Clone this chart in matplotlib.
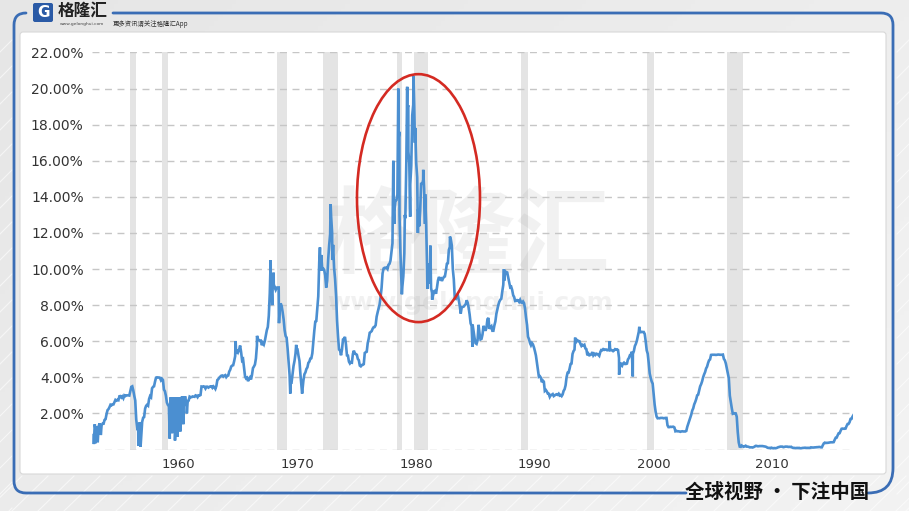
"""Effective federal funds rate 1954-2018 with recession shading (gelonghui card)."""

import matplotlib

matplotlib.use("Agg")
import matplotlib.pyplot as plt
import numpy as np
from matplotlib.colors import LinearSegmentedColormap
from matplotlib.patches import Ellipse, FancyBboxPatch, PathPatch
from matplotlib.path import Path

# ---- data -----------------------------------------------------------------
# monthly rate in %, first value is July 1954
first_month = 1954 + 6 / 12
rate_1950s = [
    0.80, 1.22, 1.07, 0.85, 0.83, 1.28,
    1.39, 1.29, 1.35, 1.43, 1.43, 1.64, 1.68, 1.96, 2.18, 2.24, 2.35, 2.48,
    2.45, 2.50, 2.50, 2.62, 2.75, 2.71, 2.75, 2.73, 2.95, 2.96, 2.88, 2.94,
    2.84, 3.00, 2.96, 3.00, 3.00, 3.00, 2.99, 3.24, 3.47, 3.50, 3.28, 2.98,
    2.72, 1.67, 1.20, 1.26, 0.63, 0.93, 0.68, 1.53, 1.76, 1.80, 2.27, 2.42,
    2.48, 2.43, 2.80, 2.96, 2.90, 3.39, 3.47, 3.50, 3.76, 3.98, 4.00, 3.99,
]
rate_1960s = [
    3.99, 3.97, 3.84, 3.92, 3.85, 3.32, 3.23, 2.98, 2.60, 2.47, 2.44, 1.98,
    1.45, 2.54, 2.02, 1.49, 1.98, 1.73, 1.17, 2.00, 1.88, 2.26, 2.61, 2.33,
    2.15, 2.37, 2.85, 2.78, 2.36, 2.68, 2.71, 2.93, 2.90, 2.90, 2.94, 2.93,
    2.92, 3.00, 2.98, 2.90, 3.00, 2.99, 3.02, 3.49, 3.48, 3.50, 3.48, 3.38,
    3.48, 3.48, 3.43, 3.47, 3.50, 3.50, 3.42, 3.50, 3.45, 3.36, 3.52, 3.85,
    3.90, 3.98, 4.04, 4.09, 4.10, 4.04, 4.09, 4.12, 4.01, 4.08, 4.10, 4.32,
    4.42, 4.60, 4.65, 4.67, 4.90, 5.17, 5.30, 5.53, 5.40, 5.53, 5.76, 5.40,
    4.94, 5.00, 4.53, 4.05, 3.94, 3.98, 3.79, 3.90, 3.99, 3.88, 4.13, 4.51,
    4.60, 4.71, 5.05, 5.76, 6.11, 6.07, 6.02, 6.03, 5.78, 5.91, 5.82, 6.02,
    6.30, 6.61, 6.79, 7.41, 8.67, 8.90, 8.61, 9.19, 9.15, 9.00, 8.85, 8.97,
]
rate_1970s = [
    8.98, 8.98, 7.76, 8.10, 7.95, 7.61, 7.21, 6.61, 6.29, 6.20, 5.60, 4.90,
    4.14, 3.72, 3.71, 4.16, 4.63, 4.91, 5.31, 5.56, 5.55, 5.20, 4.91, 4.14,
    3.50, 3.29, 3.83, 4.17, 4.27, 4.46, 4.55, 4.80, 4.87, 5.04, 5.06, 5.33,
    5.94, 6.58, 7.09, 7.12, 7.84, 8.49, 10.40, 10.50, 10.78, 10.01, 10.03, 9.95,
    9.65, 8.97, 9.35, 10.51, 11.31, 11.93, 12.92, 12.01, 11.34, 10.06, 9.45, 8.53,
    7.13, 6.24, 5.54, 5.49, 5.22, 5.55, 6.10, 6.14, 6.24, 5.82, 5.22, 5.20,
    4.87, 4.77, 4.84, 4.82, 5.29, 5.48, 5.31, 5.29, 5.25, 5.02, 4.95, 4.65,
    4.61, 4.68, 4.69, 4.73, 5.35, 5.39, 5.42, 5.90, 6.14, 6.47, 6.51, 6.56,
    6.70, 6.78, 6.79, 6.89, 7.36, 7.60, 7.81, 8.04, 8.45, 8.96, 9.76, 10.03,
    10.07, 10.06, 10.09, 10.01, 10.24, 10.29, 10.47, 10.94, 11.43, 13.77, 13.18, 13.78,
]
rate_1980s = [
    13.82, 14.13, 17.19, 17.61, 10.98, 9.47, 9.03, 9.61, 10.87, 12.81, 15.85, 18.90,
    19.08, 15.93, 14.70, 15.72, 18.52, 19.10, 19.04, 17.82, 15.87, 15.08, 13.31, 12.37,
    13.22, 14.78, 14.68, 14.94, 14.45, 14.15, 12.59, 10.12, 10.31, 9.71, 9.20, 8.95,
    8.68, 8.51, 8.77, 8.80, 8.63, 8.98, 9.37, 9.56, 9.45, 9.48, 9.34, 9.47,
    9.56, 9.59, 9.91, 10.29, 10.32, 11.06, 11.23, 11.64, 11.30, 9.99, 9.43, 8.38,
    8.35, 8.50, 8.58, 8.27, 7.97, 7.53, 7.88, 7.90, 7.92, 7.99, 8.05, 8.27,
    8.14, 7.86, 7.48, 6.99, 6.85, 6.92, 6.56, 6.17, 5.89, 5.85, 6.04, 6.91,
    6.43, 6.10, 6.13, 6.37, 6.85, 6.73, 6.58, 6.73, 7.22, 7.29, 6.69, 6.77,
    6.83, 6.58, 6.58, 6.87, 7.09, 7.51, 7.75, 8.01, 8.19, 8.30, 8.35, 8.76,
    9.12, 9.36, 9.85, 9.84, 9.81, 9.53, 9.24, 8.99, 9.02, 8.84, 8.55, 8.45,
]
rate_1990s = [
    8.23, 8.24, 8.28, 8.26, 8.18, 8.29, 8.15, 8.13, 8.20, 8.11, 7.81, 7.31,
    6.91, 6.25, 6.12, 5.91, 5.78, 5.90, 5.82, 5.66, 5.45, 5.21, 4.81, 4.43,
    4.03, 4.06, 3.98, 3.73, 3.82, 3.76, 3.25, 3.30, 3.22, 3.10, 3.09, 2.92,
    3.02, 3.03, 3.07, 2.96, 3.00, 3.04, 3.06, 3.03, 3.09, 2.99, 3.02, 2.96,
    3.05, 3.25, 3.34, 3.56, 4.01, 4.25, 4.26, 4.47, 4.73, 4.76, 5.29, 5.45,
    5.53, 5.92, 5.98, 6.05, 6.01, 6.00, 5.85, 5.74, 5.80, 5.76, 5.80, 5.60,
    5.56, 5.22, 5.31, 5.22, 5.24, 5.27, 5.40, 5.22, 5.30, 5.24, 5.31, 5.29,
    5.25, 5.19, 5.39, 5.51, 5.50, 5.56, 5.52, 5.54, 5.54, 5.50, 5.52, 5.50,
    5.56, 5.51, 5.49, 5.45, 5.49, 5.56, 5.54, 5.55, 5.51, 5.07, 4.83, 4.68,
    4.63, 4.76, 4.81, 4.74, 4.74, 4.76, 4.99, 5.07, 5.22, 5.20, 5.42, 5.30,
]
rate_2000s = [
    5.45, 5.73, 5.85, 6.02, 6.27, 6.53, 6.54, 6.50, 6.52, 6.51, 6.51, 6.40,
    5.98, 5.49, 5.31, 4.80, 4.21, 3.97, 3.77, 3.65, 3.07, 2.49, 2.09, 1.82,
    1.73, 1.74, 1.73, 1.75, 1.75, 1.75, 1.73, 1.74, 1.75, 1.75, 1.34, 1.24,
    1.24, 1.26, 1.25, 1.26, 1.26, 1.22, 1.01, 1.03, 1.01, 1.01, 1.00, 0.98,
    1.00, 1.01, 1.00, 1.00, 1.00, 1.03, 1.26, 1.43, 1.61, 1.76, 1.93, 2.16,
    2.28, 2.50, 2.63, 2.79, 3.00, 3.04, 3.26, 3.50, 3.62, 3.78, 4.00, 4.16,
    4.29, 4.49, 4.59, 4.79, 4.94, 4.99, 5.24, 5.25, 5.25, 5.25, 5.25, 5.24,
    5.25, 5.26, 5.26, 5.25, 5.25, 5.25, 5.26, 5.02, 4.94, 4.76, 4.49, 4.24,
    3.94, 2.98, 2.61, 2.28, 1.98, 2.00, 2.01, 2.00, 1.81, 0.97, 0.39, 0.16,
    0.15, 0.22, 0.18, 0.15, 0.18, 0.21, 0.16, 0.16, 0.15, 0.12, 0.12, 0.12,
]
rate_2010s = [
    0.11, 0.13, 0.16, 0.20, 0.20, 0.18, 0.18, 0.19, 0.19, 0.19, 0.19, 0.18,
    0.17, 0.16, 0.14, 0.10, 0.09, 0.09, 0.07, 0.10, 0.08, 0.07, 0.08, 0.07,
    0.08, 0.10, 0.13, 0.14, 0.16, 0.16, 0.16, 0.13, 0.14, 0.16, 0.16, 0.16,
    0.14, 0.15, 0.14, 0.15, 0.11, 0.09, 0.09, 0.08, 0.08, 0.09, 0.08, 0.09,
    0.07, 0.07, 0.08, 0.09, 0.09, 0.10, 0.09, 0.09, 0.09, 0.09, 0.09, 0.12,
    0.11, 0.11, 0.11, 0.12, 0.12, 0.13, 0.13, 0.14, 0.14, 0.12, 0.12, 0.24,
    0.34, 0.38, 0.36, 0.37, 0.37, 0.38, 0.39, 0.40, 0.40, 0.40, 0.41, 0.54,
    0.65, 0.66, 0.79, 0.90, 0.91, 1.04, 1.15, 1.16, 1.15, 1.15, 1.16, 1.30,
    1.41, 1.42, 1.51, 1.69, 1.70, 1.82, 1.91,
]

# short-lived daily extremes (year, %)
spike_years = [
    1954.56, 1954.63, 1954.71, 1954.79, 1954.88, 1955.04, 1955.14,
    1958.30, 1958.40, 1958.49,
    1960.95, 1961.04, 1961.14, 1961.29, 1961.39, 1961.49, 1961.61, 1961.74,
    1961.84, 1961.99, 1962.09, 1962.24, 1962.39,
    1966.50, 1968.30, 1969.45, 1969.58, 1969.70, 1970.15, 1971.10, 1971.60, 1972.10,
    1973.60, 1973.70, 1974.50, 1974.64,
    1979.78, 1979.86, 1980.20, 1980.30, 1980.50, 1980.75, 1980.95, 1981.05,
    1981.20, 1981.35, 1981.48, 1981.60, 1981.85, 1982.30, 1982.45, 1982.65,
    1982.90, 1983.05, 1984.55, 1986.45, 1989.10,
    1995.10, 1998.00, 1998.80, 1999.95, 2000.50,
]
spike_values = [
    0.30, 1.40, 0.35, 1.30, 0.40, 1.45, 0.80,
    0.20, 1.50, 0.15,
    0.60, 2.90, 0.90, 2.90, 0.50, 2.90, 0.70, 2.90,
    1.00, 2.95, 1.40, 2.95, 2.00,
    6.00, 6.30, 10.50, 8.00, 9.80, 7.00, 3.10, 5.80, 3.10,
    11.20, 9.90, 13.60, 10.50,
    16.00, 12.50, 20.00, 13.00, 8.60, 13.00, 20.10, 16.50,
    12.90, 17.50, 20.70, 17.00, 12.00, 15.50, 12.50, 8.90,
    11.30, 8.30, 11.80, 5.70, 10.00,
    6.20, 6.00, 4.15, 4.05, 6.80,
]

# NBER recessions as shaded on the chart
recession_start = [1957.60, 1960.30, 1969.95, 1973.85, 1980.05, 1981.50, 1990.52, 2001.15, 2007.90]
recession_end = [1958.10, 1960.80, 1970.82, 1975.12, 1980.50, 1982.70, 1991.10, 2001.72, 2009.25]

tick_years = [1960, 1970, 1980, 1990, 2000, 2010]
y_ticks = [0, 2, 4, 6, 8, 10, 12, 14, 16, 18, 20, 22]

# ---- series ---------------------------------------------------------------
monthly = np.array(rate_1950s + rate_1960s + rate_1970s + rate_1980s + rate_1990s + rate_2000s + rate_2010s)
months = first_month + (np.arange(len(monthly)) + 0.5) / 12
years = np.concatenate([months, spike_years])
values = np.concatenate([monthly, spike_values])
order = np.argsort(years)
years, values = years[order], values[order]

LINE = "#4b8fd1"
FRAME = "#3a6db5"
CJK = ["Noto Sans CJK SC", "DejaVu Sans"]

fig = plt.figure(figsize=(9.09, 5.11), dpi=100)

# ---- page decoration in pixel coordinates ---------------------------------
page = fig.add_axes([0, 0, 1, 1], zorder=-1)
page.set_xlim(0, 909)
page.set_ylim(511, 0)
page.axis("off")

gx, gy = np.meshgrid(np.linspace(0, 1, 200), np.linspace(0, 1, 120))
bg_cmap = LinearSegmentedColormap.from_list("bg", ["#e6e6e6", "#f3f3f3"])
page.imshow(0.6 * gx + 0.4 * gy, extent=[0, 909, 511, 0], cmap=bg_cmap, aspect="auto", zorder=0)
for x0 in range(-40, 930, 26):
    page.plot([x0, x0 + 36], [511, 476], color="white", lw=0.8, alpha=0.6, zorder=0.5)
for y0 in range(40, 520, 26):
    page.plot([0, 12], [y0 + 12, y0], color="white", lw=0.8, alpha=0.6, zorder=0.5)
    page.plot([897, 909], [y0 + 12, y0], color="white", lw=0.8, alpha=0.6, zorder=0.5)

page.add_patch(FancyBboxPatch((20, 32), 866, 442, boxstyle="round,pad=0,rounding_size=3",
                              fc="white", ec="#d8d8d8", lw=0.8, zorder=1))

right_frame = Path(
    [(113, 13), (881, 13), (893, 13), (893, 25), (893, 468), (893, 493), (868, 493)],
    [Path.MOVETO, Path.LINETO, Path.CURVE3, Path.CURVE3, Path.LINETO, Path.CURVE3, Path.CURVE3],
)
left_frame = Path(
    [(26, 13), (14, 13), (14, 25), (14, 481), (14, 493), (26, 493), (686, 493)],
    [Path.MOVETO, Path.CURVE3, Path.CURVE3, Path.LINETO, Path.CURVE3, Path.CURVE3, Path.LINETO],
)
for frame in (right_frame, left_frame):
    page.add_patch(PathPatch(frame, fc="none", ec=FRAME, lw=2.0, capstyle="round", zorder=2))

# logo block
page.add_patch(FancyBboxPatch((33, 3), 20, 19, boxstyle="round,pad=0,rounding_size=2",
                              fc="#2a5aa6", ec="none", zorder=3))
page.text(43, 12.5, "G", color="white", fontsize=11, fontweight="bold",
          ha="center", va="center", zorder=4)
page.text(58, 11, "格隆汇", family=CJK, fontsize=12, fontweight="bold",
          color="#222222", ha="left", va="center", zorder=4)
page.text(60, 24, "www.gelonghui.com", fontsize=3.2, color="#444444",
          ha="left", va="center", zorder=4)
page.text(113, 24, "更多资讯请关注格隆汇App", family=CJK, fontsize=4.6,
          color="#333333", ha="left", va="center", zorder=4)
page.text(777, 492, "全球视野 • 下注中国", family=CJK, fontsize=14, fontweight="heavy",
          color="#111111", ha="center", va="center", zorder=4)

# ---- chart ----------------------------------------------------------------
ax = fig.add_axes([92 / 909, (511 - 449.5) / 511, (853 - 92) / 909, (449.5 - 52.5) / 511])
ax.set_facecolor("none")

for start, end in zip(recession_start, recession_end):
    ax.axvspan(start, end, color="#e4e4e4", lw=0, zorder=0.2)

ax.text(468 / 909, 1 - 238 / 511, "格隆汇", family=CJK, fontsize=68, fontweight="bold",
        color="#9a9a9a", alpha=0.13, ha="center", va="center", transform=fig.transFigure, zorder=0.4)
ax.text(470 / 909, 1 - 303 / 511, "www.gelonghui.com", fontsize=18, fontweight="bold",
        color="#9a9a9a", alpha=0.13, ha="center", va="center", transform=fig.transFigure, zorder=0.4)

ax.plot(years, values, color=LINE, lw=1.9, solid_joinstyle="miter", zorder=3)

ax.add_patch(Ellipse((1981.9, 13.93), 10.36, 13.74, fill=False, ec="#d42a22",
                     lw=1.9, zorder=5, clip_on=False))

ax.set_xlim(1954.4, 2018.5)
ax.set_ylim(0, 22)

ax.set_yticks(y_ticks)
ax.set_yticklabels(["" if v == 0 else f"{v:.2f}%" for v in y_ticks])
# the source puts each decade label about 1.7 years right of Jan 1
ax.set_xticks([y + 1.7 for y in tick_years])
ax.set_xticklabels([str(y) for y in tick_years])
ax.tick_params(axis="y", length=0, pad=6, labelsize=10, labelcolor="#333333")
ax.tick_params(axis="x", length=0, pad=6, labelsize=9.5, labelcolor="#333333")

ax.yaxis.grid(True, color="#c6c6c6", lw=1.0, linestyle=(0, (5, 4)))
ax.xaxis.grid(False)
ax.set_axisbelow(True)
for spine in ax.spines.values():
    spine.set_visible(False)

fig.savefig("out.png", dpi=100)
